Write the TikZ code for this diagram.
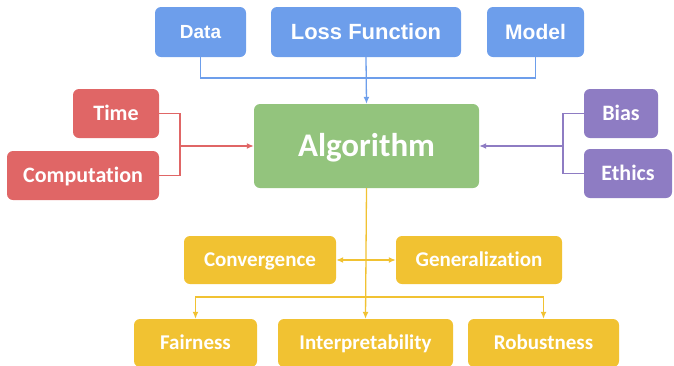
\documentclass[tikz,border=0pt]{standalone}
\usepackage{fontspec}
\setmainfont{Carlito}[Ligatures=NoCommon]
\newfontfamily\headfont{Liberation Sans}
\usetikzlibrary{arrows.meta}

\definecolor{blueA}{HTML}{6D9EEB}
\definecolor{greenA}{HTML}{93C47D}
\definecolor{redA}{HTML}{E06666}
\definecolor{purpleA}{HTML}{8E7CC3}
\definecolor{yellowA}{HTML}{F1C232}

\tikzset{
  box/.style={rounded corners=6pt, inner sep=0pt, text=white, text depth=0pt},
  inbox/.style={box, fill=blueA, minimum height=50pt},
  sidebox/.style={box, minimum height=49pt},
  outbox/.style={box, fill=yellowA, minimum height=48pt},
  % font sizes, with the cap height as text height
  txtA/.style={font=\bfseries\fontsize{33}{33}\selectfont, text height=21.3pt},
  txtB/.style={font=\bfseries\fontsize{22}{22}\selectfont, text height=14.2pt},
  txtC/.style={font=\bfseries\fontsize{21}{21}\selectfont, text height=13.5pt},
  headA/.style={font=\headfont\bfseries\fontsize{19}{19}\selectfont, text height=13.6pt},
  headB/.style={font=\headfont\bfseries\fontsize{22}{22}\selectfont, text height=15.8pt},
  headC/.style={font=\headfont\bfseries\fontsize{21}{21}\selectfont, text height=15pt},
  link/.style={line width=1.3pt},
  tip/.style={-{Latex[length=7pt,width=6pt]}}
}

\begin{document}
\begin{tikzpicture}[x=1pt,y=-1pt]
\useasboundingbox (0,0) rectangle (674,365);

% inputs
\node[inbox, headA, minimum width=91pt] (data) at (200.5,32) {Data};
\node[inbox, headB, minimum width=190pt] (loss) at (366,32) {Loss Function};
\node[inbox, headC, minimum width=97pt] (model) at (535.5,32) {Model};

% center
\node[box, txtA, fill=greenA, minimum width=225pt, minimum height=84pt] (algo) at (366.5,146) {Algorithm};

% constraints
\node[sidebox, txtB, fill=redA, minimum width=86pt] (time) at (116,113.5) {Time};
\node[sidebox, txtB, fill=redA, minimum width=152pt] (comp) at (83,175.5) {Computation};
\node[sidebox, txtB, fill=purpleA, minimum width=74pt] (bias) at (621,113.5) {Bias};
\node[sidebox, txtB, fill=purpleA, minimum width=88pt] (ethics) at (628,173.5) {Ethics};

% properties
\node[outbox, txtC, minimum width=152pt] (conv) at (260,260) {Convergence};
\node[outbox, txtC, minimum width=166pt] (gen) at (479,260) {Generalization};
\node[outbox, txtC, minimum width=123pt] (fair) at (195.5,343) {Fairness};
\node[outbox, txtC, minimum width=175pt] (interp) at (365.5,343) {Interpretability};
\node[outbox, txtC, minimum width=151pt] (robust) at (543.5,343) {Robustness};

\coordinate (topbus) at (366,78);
\coordinate (redjoin) at (180,146);
\coordinate (purjoin) at (563,146);
\coordinate (lowbus) at (366,297);

\draw[link, blueA] (data.south) |- (topbus) -| (model.south);
\draw[link, blueA, tip] (loss.south) -- (algo.north);

\draw[link, redA] (time.east) -| (redjoin) |- (comp.east);
\draw[link, redA, tip] (redjoin) -- (algo.west);

\draw[link, purpleA] (bias.west) -| (purjoin) |- (ethics.west);
\draw[link, purpleA, tip] (purjoin) -- (algo.east);

\draw[link, yellowA, tip] (algo.south) -- (interp.north);
\draw[link, yellowA, tip] (lowbus) -| (fair.north);
\draw[link, yellowA, tip] (lowbus) -| (robust.north);
\draw[link, yellowA, {Latex[length=7pt,width=6pt]}-{Latex[length=7pt,width=6pt]}] (conv.east) -- (gen.west);

\end{tikzpicture}
\end{document}
